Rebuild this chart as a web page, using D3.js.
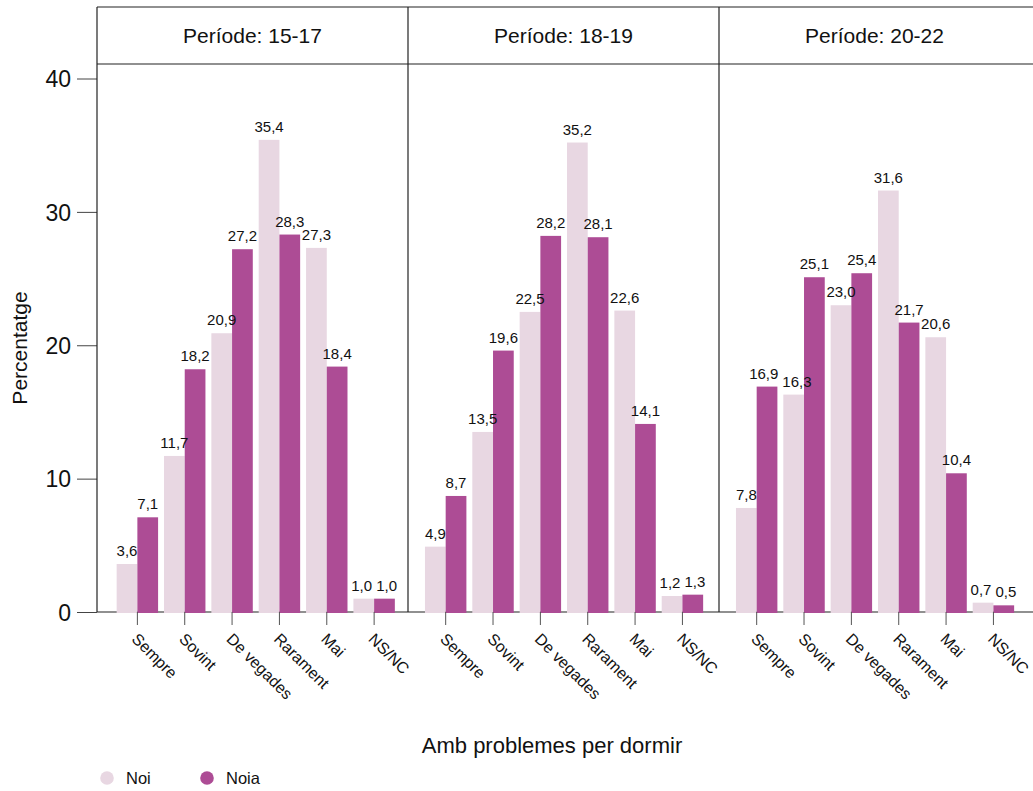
<!DOCTYPE html>
<html>
<head>
<meta charset="utf-8">
<script src="https://cdn.jsdelivr.net/npm/d3@7"></script>
<style>
  html, body { margin: 0; padding: 0; background: #fff; }
  svg { display: block; }
  text { font-family: "Liberation Sans", Arial, Helvetica, sans-serif; fill: #111; }
</style>
</head>
<body>
<svg id="chart" width="1033" height="791"></svg>
<script>
// ---- data ----
const periods = ["Període: 15-17", "Període: 18-19", "Període: 20-22"];
const categories = ["Sempre", "Sovint", "De vegades", "Rarament", "Mai", "NS/NC"];
const genders = ["Noi", "Noia"];
const noiValues = [
  [3.6, 11.7, 20.9, 35.4, 27.3, 1.0],
  [4.9, 13.5, 22.5, 35.2, 22.6, 1.2],
  [7.8, 16.3, 23.0, 31.6, 20.6, 0.7]
];
const noiaValues = [
  [7.1, 18.2, 27.2, 28.3, 18.4, 1.0],
  [8.7, 19.6, 28.2, 28.1, 14.1, 1.3],
  [16.9, 25.1, 25.4, 21.7, 10.4, 0.5]
];
const yTicks = [0, 10, 20, 30, 40];
const colors = ["#e8d7e2", "#ad4c95"];
const xTitle = "Amb problemes per dormir";
const yTitle = "Percentatge";

// ---- layout ----
const W = 1033, H = 791;
const plotLeft = 97, panelW = 311;
const panelInset = [16.7, 14, 14];
const plotTop = 7, stripH = 57, plotBottom = 612;
const svg = d3.select("#chart");

const y = d3.scaleLinear().domain([0, 40]).range([plotBottom, 78.5]);
const color = d3.scaleOrdinal().domain(genders).range(colors);
const fmt = v => d3.format(".1f")(v).replace(".", ",");

// y axis
const yAxis = svg.append("g").attr("transform", `translate(${plotLeft},0)`)
  .call(d3.axisLeft(y).tickValues(yTicks).tickSize(20).tickPadding(6).tickFormat(d3.format("d")));
yAxis.select(".domain").remove();
yAxis.selectAll(".tick line").attr("stroke", "#444");
yAxis.selectAll(".tick text").style("font-size", "23px").attr("fill", "#111").attr("dy", "0.36em");

// y title
svg.append("text")
  .attr("transform", `translate(27,${(plotTop + stripH + plotBottom) / 2 + 10}) rotate(-90)`)
  .attr("text-anchor", "middle")
  .style("font-size", "21px")
  .text(yTitle);

// baseline across all panels
svg.append("line").attr("x1", plotLeft).attr("x2", W).attr("y1", y(0)).attr("y2", y(0))
  .attr("stroke", "#222").attr("stroke-width", 1.2);

// top border and strip bottom
svg.append("line").attr("x1", plotLeft).attr("x2", W).attr("y1", plotTop).attr("y2", plotTop)
  .attr("stroke", "#222").attr("stroke-width", 1.2);
svg.append("line").attr("x1", plotLeft).attr("x2", W).attr("y1", plotTop + stripH).attr("y2", plotTop + stripH)
  .attr("stroke", "#222").attr("stroke-width", 1.2);

periods.forEach((p, pi) => {
  const x0 = plotLeft + pi * panelW;
  const step = 47.35;
  const x = d3.scaleBand().domain(categories)
    .range([x0 + panelInset[pi], x0 + panelInset[pi] + step * categories.length])
    .paddingInner(0.125).paddingOuter(0.0625);
  const xg = d3.scaleBand().domain(genders).range([0, x.bandwidth()]);

  const g = svg.append("g");

  // strip label
  g.append("text")
    .attr("x", x0 + panelW / 2).attr("y", plotTop + stripH / 2 + 7.5)
    .attr("text-anchor", "middle").style("font-size", "21px")
    .text(p);

  // left border
  g.append("line").attr("x1", x0).attr("x2", x0).attr("y1", plotTop).attr("y2", plotBottom)
    .attr("stroke", "#222").attr("stroke-width", 1.2);

  const cells = [];
  categories.forEach((c, ci) => {
    cells.push({ c, g: "Noi", v: noiValues[pi][ci] });
    cells.push({ c, g: "Noia", v: noiaValues[pi][ci] });
  });

  g.selectAll("rect").data(cells).enter().append("rect")
    .attr("x", d => x(d.c) + xg(d.g)).attr("width", xg.bandwidth())
    .attr("y", d => y(d.v)).attr("height", d => y(0) - y(d.v) + 1)
    .attr("fill", d => color(d.g));

  const labels = g.selectAll("text.val").data(cells).enter().append("text")
    .attr("class", "val")
    .attr("text-anchor", "middle").style("font-size", "15px")
    .text(d => fmt(d.v));

  // simple label repel: push overlapping neighbours apart horizontally
  labels.each(function (d) {
    d.lx = x(d.c) + xg(d.g) + xg.bandwidth() / 2;
    d.ly = y(d.v) - 8;
    d.w = this.getComputedTextLength();
  });
  const L = cells;
  for (let it = 0; it < 30; it++) {
    for (let i = 0; i < L.length - 1; i++) {
      const a = L[i], b = L[i + 1];
      const gap = 4;
      const overlapX = (a.lx + a.w / 2 + gap) - (b.lx - b.w / 2);
      const overlapY = Math.abs(a.ly - b.ly) < 11;
      if (overlapX > 0 && overlapY) {
        a.lx -= overlapX / 2;
        b.lx += overlapX / 2;
      }
    }
  }
  labels.attr("x", d => d.lx).attr("y", d => d.ly);

  // x axis
  const xAxis = g.append("g").attr("transform", `translate(0,${y(0)})`)
    .call(d3.axisBottom(x).tickSize(13).tickSizeOuter(0));
  xAxis.select(".domain").remove();
  xAxis.selectAll(".tick line").attr("stroke", "#555");
  xAxis.selectAll(".tick text")
    .attr("y", 0).attr("dy", "0.71em")
    .attr("transform", "translate(1.5,20) rotate(45)")
    .attr("text-anchor", "start")
    .attr("fill", "#111")
    .style("font-size", "16px");
});

// x title
svg.append("text")
  .attr("x", 552).attr("y", 753)
  .attr("text-anchor", "middle").style("font-size", "22px")
  .text(xTitle);

// legend
const lg = svg.append("g").attr("transform", "translate(107,778)");
const items = lg.selectAll("g").data(genders).enter().append("g")
  .attr("transform", (d, i) => `translate(${i * 100},0)`);
items.append("circle").attr("r", 6.8).attr("fill", d => color(d));
items.append("text").attr("x", 19).attr("dy", "0.36em").style("font-size", "16.5px").text(d => d);
</script>
</body>
</html>
